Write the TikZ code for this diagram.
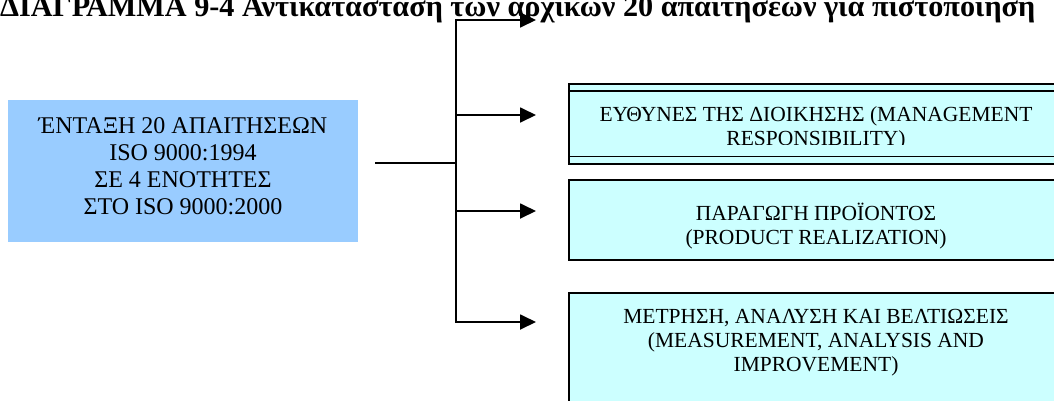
\documentclass[tikz,border=0pt]{standalone}
\usepackage{fontspec}
\usepackage{graphicx}
\setmainfont{Liberation Serif}
\usetikzlibrary{arrows.meta}
\definecolor{leftblue}{HTML}{99CCFF}
\definecolor{paleaqua}{HTML}{CCFFFF}
\begin{document}
\begin{tikzpicture}[x=1pt,y=-1pt,
  conn/.style={line width=1.8pt},
  arr/.style={line width=1.8pt,-{Triangle[length=16pt,width=15pt]}},
  srcbox/.style={fill=leftblue, inner sep=0pt, anchor=north west, minimum width=350pt, minimum height=142pt},
  tgtbox/.style={fill=paleaqua, draw=black, line width=1.6pt, inner sep=0pt, anchor=north west, minimum width=496pt},
  srctext/.style={font=\fontsize{24}{27}\selectfont, align=center, inner sep=0pt, anchor=north},
  tgttext/.style={font=\fontsize{21.5}{24}\selectfont, align=center, inner sep=0pt, anchor=north},
  band/.style={line width=1.6pt}]
\useasboundingbox (0,0) rectangle (1054,400);
\clip (0,0) rectangle (1054,400);

% title
\node[anchor=base west, inner sep=0pt] (title) at (0,16)
  {\resizebox{1035pt}{!}{\fontsize{28}{32}\selectfont\bfseries ΔΙΑΓΡΑΜΜΑ 9-4 Αντικατάσταση των αρχικών 20 απαιτήσεων για πιστοποίηση}};

% source box
\node[srcbox] (src) at (8,100) {};
\node[srctext] (srctxt) at (183,117) {ΈΝΤΑΞΗ 20 ΑΠΑΙΤΗΣΕΩΝ\\ISO 9000:1994\\ΣΕ 4 ΕΝΟΤΗΤΕΣ\\ΣΤΟ ISO 9000:2000};

% target boxes
\node[tgtbox, minimum height=80pt] (b1) at (568,83) {};
\draw[band] ([yshift=-8pt]b1.north west) -- ([yshift=-8pt]b1.north east);
\draw[band] ([yshift=8pt]b1.south west) -- ([yshift=8pt]b1.south east);
\begin{scope}
  \clip (569,92) rectangle (1063,144);
  \node[tgttext] (b1txt) at (816,106) {ΕΥΘΥΝΕΣ ΤΗΣ ΔΙΟΙΚΗΣΗΣ (MANAGEMENT\\RESPONSIBILITY)};
\end{scope}

\node[tgtbox, minimum height=80pt] (b2) at (568,179) {};
\node[tgttext] (b2txt) at (816,203) {ΠΑΡΑΓΩΓΗ ΠΡΟΪΟΝΤΟΣ\\(PRODUCT REALIZATION)};

\node[tgtbox, minimum height=130pt] (b3) at (568,292) {};
\node[tgttext] (b3txt) at (816,309) {ΜΕΤΡΗΣΗ, ΑΝΑΛΥΣΗ ΚΑΙ ΒΕΛΤΙΩΣΕΙΣ\\(MEASUREMENT, ANALYSIS AND\\IMPROVEMENT)};

% connectors
\coordinate (start) at (375,163);
\coordinate (hub) at (456,163);
\coordinate (top) at (456,20);
\coordinate (j1) at (456,115);
\coordinate (j2) at (456,211);
\coordinate (bot) at (456,322);
\coordinate (t0) at (536,20);
\coordinate (t1) at (536,115);
\coordinate (t2) at (536,211);
\coordinate (t3) at (536,322);

\draw[conn] (start) -- (hub);
\draw[arr] (hub) -- (top) -- (t0);
\draw[arr] (hub) -- (bot) -- (t3);
\draw[arr] (j1) -- (t1);
\draw[arr] (j2) -- (t2);
\end{tikzpicture}
\end{document}
